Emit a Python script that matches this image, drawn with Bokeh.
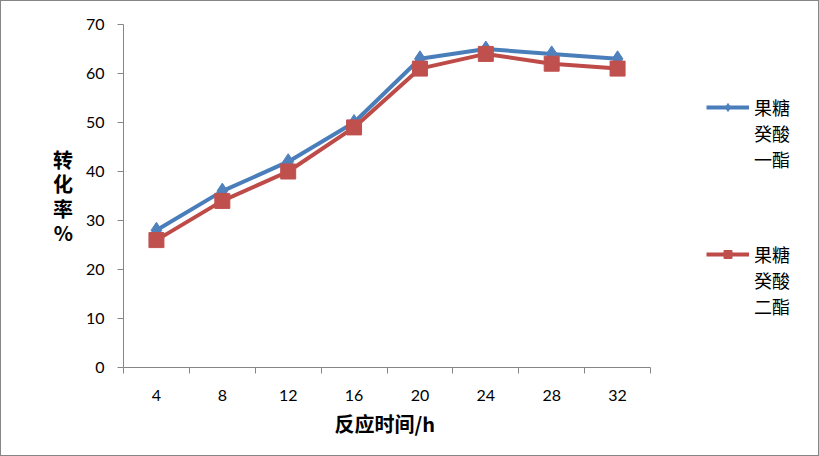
from bokeh.plotting import figure
from bokeh.models import Range1d, FixedTicker, Legend, LegendItem, Title
from bokeh.embed import file_html
from bokeh.resources import INLINE

categories = ["4", "8", "12", "16", "20", "24", "28", "32"]
mono_ester = [28, 36, 42, 50, 63, 65, 64, 63]
di_ester = [26, 34, 40, 49, 61, 64, 62, 61]
y_ticks = [0, 10, 20, 30, 40, 50, 60, 70]
name_mono = "\n\n果糖\n癸酸\n一酯"
name_di = "\n\n果糖\n癸酸\n二酯"
x_title = "反应时间/h"
y_title = "转\n化\n率\n%"

n = len(categories)
xs = [i + 0.5 for i in range(n)]

blue_line, blue_fill = "#4A7EBB", "#4F81BD"
red_line, red_fill = "#BE4B48", "#C0504D"
frame_col = "#868686"

# layout (pixels): plot area 527 wide; the frame runs on to the right edge to hold the legend
W, H = 819, 456
left, top, bottom = 122, 23, 90
plot_w = 527
frame_w = W - left
x_end = n * frame_w / plot_w

p = figure(width=W, height=H, output_backend="svg", toolbar_location=None,
           x_range=Range1d(0, x_end), y_range=Range1d(0, 70),
           min_border_left=left, min_border_right=0, min_border_top=top, min_border_bottom=bottom)
p.styles = {"margin": "0px", "border": "1px solid " + frame_col}
p.outline_line_color = None
p.xgrid.visible = False
p.ygrid.visible = False

xa = p.xaxis[0]
xa.bounds = (0, n)
xa.ticker = FixedTicker(ticks=xs, minor_ticks=list(range(n + 1)))
xa.major_label_overrides = {x: c for x, c in zip(xs, categories)}
xa.major_tick_out = 0
xa.major_tick_in = 0
xa.minor_tick_out = 6
xa.minor_tick_in = 0
xa.minor_tick_line_color = frame_col
xa.axis_line_color = frame_col
xa.major_label_text_font = "Lato"
xa.major_label_text_font_size = "16px"
xa.major_label_text_color = "#000000"
xa.major_label_standoff = 16

xt = Title(text=x_title, align="left", offset=211, standoff=6,
           text_font="Noto Sans CJK SC", text_font_style="bold",
           text_font_size="20px", text_color="#000000")
p.add_layout(xt, "below")

ya = p.yaxis[0]
ya.ticker = FixedTicker(ticks=y_ticks, minor_ticks=[])
ya.major_tick_out = 6
ya.major_tick_in = 0
ya.major_tick_line_color = frame_col
ya.axis_line_color = frame_col
ya.major_label_text_font = "Lato"
ya.major_label_text_font_size = "16px"
ya.major_label_text_color = "#000000"
ya.major_label_standoff = 13
ya.axis_label = y_title
ya.axis_label_orientation = "horizontal"
ya.axis_label_text_font = "Noto Sans CJK SC"
ya.axis_label_text_font_style = "bold"
ya.axis_label_text_font_size = "20px"
ya.axis_label_text_line_height = 0.85
ya.axis_label_text_color = "#000000"
ya.axis_label_standoff = 10

l1 = p.line(xs, mono_ester, line_color=blue_line, line_width=4)
s1 = p.scatter(xs, mono_ester, marker="diamond", size=16, fill_color=blue_fill, line_color=blue_fill)
l2 = p.line(xs, di_ester, line_color=red_line, line_width=4)
s2 = p.scatter(xs, di_ester, marker="square", size=15, fill_color=red_fill, line_color=red_fill)

legend = Legend(items=[LegendItem(label=name_mono, renderers=[l1, s1]),
                       LegendItem(label=name_di, renderers=[l2, s2])],
                location=(583, 48))
legend.padding = 0
legend.margin = 0
legend.border_line_color = None
legend.background_fill_alpha = 0
legend.glyph_width = 43
legend.label_standoff = 5
legend.spacing = 17
legend.label_text_font = "Noto Sans CJK SC"
legend.label_text_font_size = "18px"
legend.label_text_line_height = 1.165
legend.label_text_color = "#000000"
p.add_layout(legend, "center")

open("out.html", "w").write(file_html(p, INLINE))
